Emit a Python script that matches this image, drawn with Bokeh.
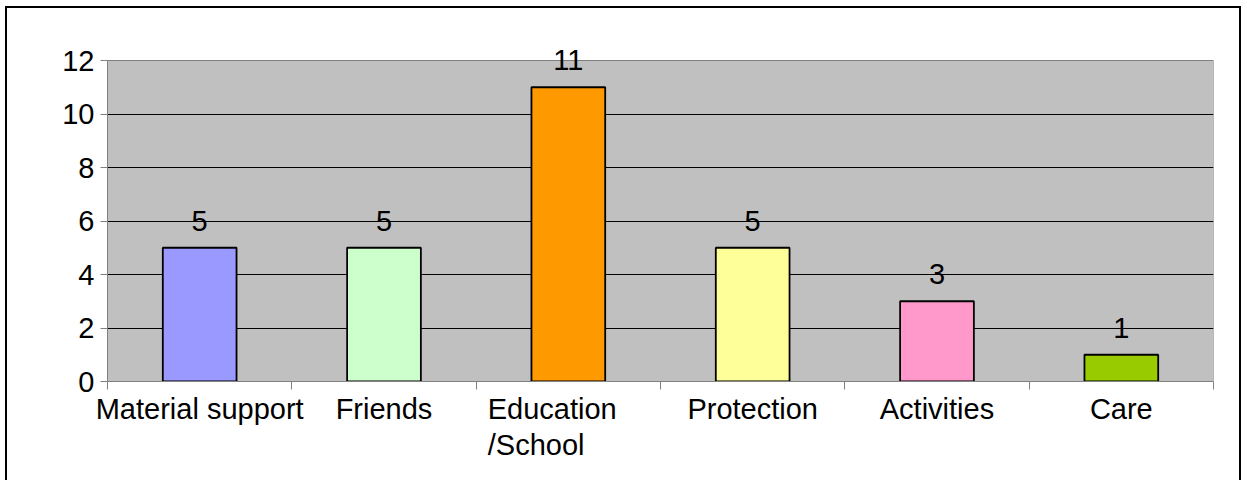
from bokeh.plotting import figure
from bokeh.models import ColumnDataSource, FixedTicker, Label, Range1d
from bokeh.embed import file_html
from bokeh.resources import INLINE

categories = ["Material support", "Friends", "Education\n/School", "Protection", "Activities", "Care"]
counts = [5, 5, 11, 5, 3, 1]
colors = ["#9999ff", "#ccffcc", "#ff9900", "#ffff99", "#ff99cc", "#99cc00"]
y_ticks = [0, 2, 4, 6, 8, 10, 12]

FONT = "Liberation Sans"
FS = "29px"

centers = [i + 0.5 for i in range(len(categories))]
bounds = list(range(len(categories) + 1))
y_max = y_ticks[-1]

# layout (canvas pixels)
H = 474
PLOT_TOP = 52      # pixel row of value y_max within canvas
BOTTOM = 101
frame_h = H - BOTTOM
y_end = y_max * frame_h / (frame_h - PLOT_TOP)   # extend frame to canvas top so labels aren't clipped

src = ColumnDataSource(dict(x=centers, top=counts, color=colors))

p = figure(width=1236, height=H, output_backend="svg", toolbar_location=None,
           x_range=Range1d(0, len(categories)), y_range=Range1d(0, y_end),
           min_border_left=100, min_border_right=30, min_border_top=0,
           min_border_bottom=BOTTOM, background_fill_color="white",
           border_fill_color="white")
p.styles = {"border-left": "2px solid black", "border-top": "2px solid black",
            "border-right": "2px solid black", "margin-left": "5px", "margin-top": "6px"}
p.outline_line_color = None

# plot area background
p.quad(left=[0], right=[len(categories)], bottom=[0], top=[y_max],
       fill_color="#c0c0c0", line_color="#808080", line_width=1)

# gridlines
p.hspan(y=[t for t in y_ticks if 0 < t < y_max], line_color="black", line_width=1)

p.vbar(x="x", top="top", bottom=0, width=0.4, fill_color="color",
       line_color="black", line_width=1.8, source=src)

for xc, c in zip(centers, counts):
    p.add_layout(Label(x=xc, y=c, text=str(c), text_align="center",
                       text_baseline="alphabetic", y_offset=27, text_font=FONT,
                       text_font_size=FS, text_color="black"))

# y axis
p.yaxis.ticker = FixedTicker(ticks=y_ticks)
p.yaxis.bounds = (0, y_max)
p.yaxis.axis_line_color = "#808080"
p.yaxis.major_tick_line_color = "#808080"
p.yaxis.major_tick_out = 7
p.yaxis.major_tick_in = 0
p.yaxis.minor_tick_line_color = None
p.yaxis.major_label_standoff = 6
p.yaxis.major_label_text_font = FONT
p.yaxis.major_label_text_font_size = FS
p.yaxis.major_label_text_color = "black"

# x axis: labels at centers, ticks at boundaries
def pad(lab):
    # wrapped label: left-align its lines and shift the block a little left, as in the original
    lines = lab.split("\n")
    if len(lines) == 2:
        return lines[0] + "\u00a0" * 4 + "\n" + lines[1] + "\u00a0" * 8
    return lab

p.xaxis.ticker = FixedTicker(ticks=centers, minor_ticks=bounds)
p.xaxis.major_label_overrides = {c: pad(lab) for c, lab in zip(centers, categories)}
p.xaxis.axis_line_color = "#808080"
p.xaxis.major_tick_line_color = None
p.xaxis.major_tick_out = 8
p.xaxis.major_tick_in = 0
p.xaxis.minor_tick_line_color = "#808080"
p.xaxis.minor_tick_out = 8
p.xaxis.minor_tick_in = 0
p.xaxis.major_label_standoff = 3
p.xaxis.major_label_text_font = FONT
p.xaxis.major_label_text_font_size = FS
p.xaxis.major_label_text_color = "black"
p.xaxis.major_label_text_line_height = 1.15

p.xgrid.grid_line_color = None
p.ygrid.grid_line_color = None

open("out.html", "w").write(file_html(p, INLINE))
